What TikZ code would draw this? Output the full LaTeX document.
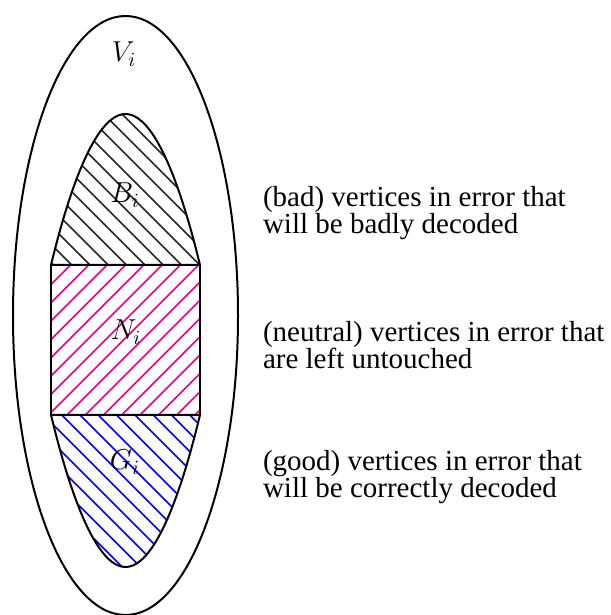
\documentclass[tikz,border=0pt]{standalone}
\usepackage{fontspec}
\setmainfont{Liberation Serif}
\definecolor{hatchmag}{RGB}{232,0,135}
\begin{document}
\begin{tikzpicture}[x=0.5pt, y=0.5pt, line width=1pt,
  setlabel/.style={font=\rmfamily\fontsize{14.5}{13.5}\selectfont, inner sep=0pt, anchor=base},
  desc/.style={font=\rmfamily\fontsize{14.5}{13.5}\selectfont, align=left, inner sep=0pt, anchor=base west},
  hatchline/.style={line width=0.8pt}]
\useasboundingbox (0,0) rectangle (610,615);
% outer set
\draw (125.5,299.5) ellipse [x radius=112.5, y radius=299.5];
% hatching of the three parts
\begin{scope}
  \clip (51,350) parabola bend (125.5,501) (200,350) -- cycle;
  \foreach \k in {-20,...,25}
    \draw[hatchline, black!85] ({421.7+18.3*\k-650},650) -- ({421.7+18.3*\k+50},-50);
\end{scope}
\begin{scope}
  \clip (51,200) rectangle (200,350);
  \foreach \k in {-25,...,20}
    \draw[hatchline, hatchmag] (-50,{18.3*\k+5-50}) -- (650,{18.3*\k+5+650});
\end{scope}
\begin{scope}
  \clip (51,200) parabola bend (125.5,48) (200,200) -- cycle;
  \foreach \k in {-20,...,25}
    \draw[hatchline, blue] ({261.7+18.3*\k-650},650) -- ({261.7+18.3*\k+50},-50);
\end{scope}
% outlines of the three parts
\draw (51,350) parabola bend (125.5,501) (200,350) -- cycle;
\draw (51,200) rectangle (200,350);
\draw (51,200) parabola bend (125.5,48) (200,200) -- cycle;
\node[setlabel] (vlab) at (124,553) {$V_i$};
\node[setlabel] (blab) at (125,412) {$B_i$};
\node[setlabel] (nlab) at (126,275) {$N_i$};
\node[setlabel] (glab) at (125,145) {$G_i$};
\node[desc] (bdesc) at (262,381) {(bad) vertices in error that\\will be badly decoded};
\node[desc] (ndesc) at (262,246) {(neutral) vertices in error that\\are left untouched};
\node[desc] (gdesc) at (262,117) {(good) vertices in error that\\will be correctly decoded};
\end{tikzpicture}
\end{document}
